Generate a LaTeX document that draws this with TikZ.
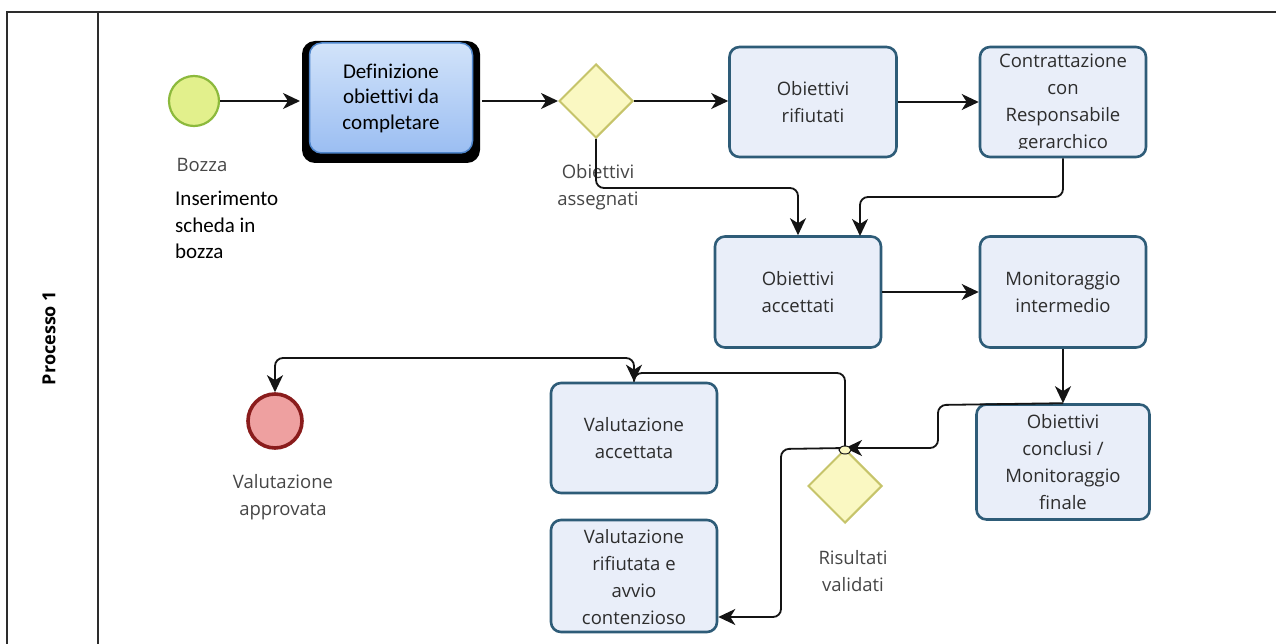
\documentclass[tikz,border=0pt]{standalone}
\usepackage{fontspec}
\setmainfont{Open Sans}
\newfontfamily\calfont[Ligatures=NoCommon]{Carlito}
\usetikzlibrary{shapes.geometric,arrows.meta,calc}
\definecolor{frameC}{RGB}{45,45,45}
\definecolor{taskFill}{RGB}{233,238,249}
\definecolor{taskDraw}{RGB}{46,92,120}
\definecolor{taskText}{RGB}{45,45,45}
\definecolor{labelText}{RGB}{70,70,70}
\definecolor{startFill}{RGB}{226,240,140}
\definecolor{startDraw}{RGB}{140,185,60}
\definecolor{gwFill}{RGB}{250,248,194}
\definecolor{gwDraw}{RGB}{198,196,106}
\definecolor{endFill}{RGB}{238,160,160}
\definecolor{endDraw}{RGB}{138,28,28}
\definecolor{defTop}{RGB}{210,227,250}
\definecolor{defBot}{RGB}{155,190,242}
\definecolor{defDraw}{RGB}{79,134,204}
\definecolor{flowC}{RGB}{20,20,20}
\begin{document}
\begin{tikzpicture}[x=1pt,y=-1pt,
  task/.style={draw=taskDraw, line width=2.6pt, fill=taskFill, rounded corners=10pt,
    inner sep=0pt, text=taskText, align=center,
    font=\fontsize{18.5}{27}\selectfont},
  tasktext/.style={inner sep=0pt, text=taskText, align=center,
    font=\fontsize{18.5}{27}\selectfont},
  gateway/.style={diamond, draw=gwDraw, line width=2pt, fill=gwFill, inner sep=0pt,
    minimum width=74pt, minimum height=74pt},
  lbl/.style={inner sep=0pt, text=labelText, align=center,
    font=\fontsize{18.5}{27}\selectfont},
  flow/.style={draw=flowC, line width=1.8pt, rounded corners=8pt,
    -{Stealth[length=17pt,width=16pt,inset=5pt]}},
  frameline/.style={draw=frameC, line width=2pt}
]
\useasboundingbox (0,0) rectangle (1276,644);
\fill[white] (0,0) rectangle (1276,644);
% pool frame
\draw[frameline] (7,644) -- (7,12) -- (1276,12);
\draw[frameline] (98,12) -- (98,644);
\node[rotate=90, inner sep=0pt, text=black, font=\bfseries\fontsize{18}{22}\selectfont] (lane) at (49,338) {Processo 1};

% start event
\node[circle, draw=startDraw, line width=2.2pt, fill=startFill, minimum size=50pt, inner sep=0pt] (start) at (194,101) {};
\node[lbl] (startlbl) at (202,165) {Bozza};
\node[inner sep=0pt, anchor=west, align=left, text=black, font=\calfont\fontsize{21}{26.5}\selectfont] (ins) at (175,225) {Inserimento\\scheda in\\bozza};

% Definizione task (highlighted)
\fill[black, rounded corners=13pt] (302,41) rectangle (480,163);
\node[draw=defDraw, line width=1.5pt, rounded corners=12pt, top color=defTop, bottom color=defBot,
  minimum width=163pt, minimum height=110pt, inner sep=0pt, align=center, text=black,
  font=\calfont\fontsize{21}{25.5}\selectfont] (def) at (391,98) {Definizione\\obiettivi da\\completare};

% gateway 1
\node[gateway] (gw1) at (596,101) {};
\node[lbl] (gw1lbl) at (598,187) {Obiettivi\\assegnati};

% tasks row 1
\node[task, minimum width=167pt, minimum height=110pt] (rif) at (813,102) {Obiettivi\\rifiutati};
\node[task, minimum width=166pt, minimum height=110pt] (contr) at (1063,102) {};
\begin{scope}
  \clip (983,50) rectangle (1143,149);
  \node[tasktext] (contrtxt) at (1063,103) {Contrattazione\\con\\Responsabile\\gerarchico};
\end{scope}

% row 2
\node[task, minimum width=166pt, minimum height=111pt] (acc) at (798,292) {Obiettivi\\accettati};
\node[task, minimum width=166pt, minimum height=111pt] (mon) at (1063,292) {Monitoraggio\\intermedio};

% row 3
\node[task, minimum width=173pt, minimum height=115pt] (conc) at (1063,462) {Obiettivi\\conclusi /\\Monitoraggio\\finale};
\node[gateway] (gw2) at (845,486) {};
\node[lbl] (gw2lbl) at (853,571) {Risultati\\validati};
\node[task, minimum width=166pt, minimum height=110pt] (valacc) at (634,438) {Valutazione\\accettata};
\node[task, minimum width=166pt, minimum height=112pt] (valrif) at (634,576) {};
\begin{scope}
  \clip (554,529) rectangle (714,629);
  \node[tasktext] (valriftxt) at (634,577) {Valutazione\\rifiutata e\\avvio\\contenzioso};
\end{scope}

% end event
\node[circle, draw=endDraw, line width=3.6pt, fill=endFill, minimum size=54pt, inner sep=0pt] (end) at (275,421) {};
\node[lbl] (endlbl) at (283,497) {Valutazione\\approvata};

% flows
\draw[flow] (start.east) -- (start.east -| 300,0);
\draw[flow] (482,101) -- (gw1.west);
\draw[flow] (gw1.east) -- (rif.west |- gw1.east);
\draw[flow] (rif.east) -- (contr.west);
\draw[flow] (gw1.south) -- (596,188) -- (798,188) -- (acc.north);
\draw[flow] (contr.south) -- (1063,197) -- (860,197) -- (860,236);
\draw[flow] (acc.east) -- (mon.west);
\draw[flow] (mon.south) -- (conc.north);
\draw[flow] (conc.north) -- (938,405) -- (938,448) -- (gw2.north);
\draw[flow] (gw2.north) -- (845,373) -- (634,373) -- (valacc.north);
\draw[flow] (valacc.north) -- (634,358) -- (275,358) -- (end.north);
\draw[flow] (gw2.north) -- (781,449) -- (781,617) -- (valrif.east |- 0,617);
\node[ellipse, draw=flowC, line width=1pt, fill=gwFill, minimum width=12pt, minimum height=8pt, inner sep=0pt] (jump) at (845,450) {};
\end{tikzpicture}
\end{document}
